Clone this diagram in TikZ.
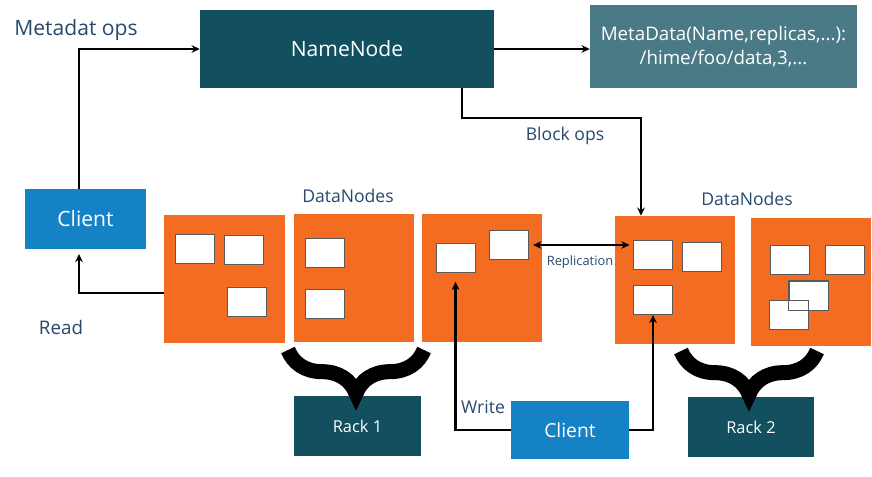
\documentclass[tikz,border=0pt]{standalone}
\usepackage{fontspec}
\setmainfont{Open Sans}
\usetikzlibrary{arrows.meta,positioning,decorations.pathreplacing}
\definecolor{hdfsTeal}  {RGB}{18,  80,  96}
\definecolor{hdfsSlate} {RGB}{74, 122, 134}
\definecolor{hdfsBlue}  {RGB}{22, 130, 198}
\definecolor{hdfsOrange}{RGB}{243,108,  33}
\definecolor{hdfsText}  {RGB}{40,  72, 110}

\begin{document}
\begin{tikzpicture}[x=0.03cm,y=-0.03cm,
    caixa/.style={inner sep=0pt,text=white},
    dnode/.style={fill=hdfsOrange,minimum width=3.6cm,minimum height=3.84cm,inner sep=0pt},
    bloco/.style={fill=white,draw=black!65,line width=0.7pt,
                  minimum width=1.17cm,minimum height=0.87cm,inner sep=0pt},
    rotulo/.style={text=hdfsText,inner sep=0pt},
    seta/.style={-{Stealth[length=7pt,width=6.5pt]},line width=2pt},
    chave/.style={decorate,decoration={brace,amplitude=1.3cm},line width=0.45cm}]
        \useasboundingbox (0,0) rectangle (872,476);
        % NameNode e metadados
        \node[caixa,fill=hdfsTeal,minimum width=8.82cm,minimum height=2.34cm,
              font=\fontsize{18}{20}\selectfont] (namenode) at (347,49) {NameNode};
        \node[caixa,fill=hdfsSlate,minimum width=8.01cm,minimum height=2.49cm,align=center,
              font=\fontsize{16}{21}\selectfont] (meta) at (723.5,46.5)
          {MetaData(Name,replicas,...):\\/hime/foo/data,3,...};
        % Clientes
        \node[caixa,fill=hdfsBlue,minimum width=3.63cm,minimum height=1.8cm,
              font=\fontsize{18}{20}\selectfont] (client1) at (85.5,219) {Client};
        \node[caixa,fill=hdfsBlue,minimum width=3.54cm,minimum height=1.74cm,
              font=\fontsize{16.5}{18}\selectfont] (client2) at (570,430) {Client};
        % DataNodes
        \node[dnode] (dn1) at (224.5,278.5) {};
        \node[dnode] (dn2) at (354,278) {};
        \node[dnode] (dn3) at (481.5,277.5) {};
        \node[dnode] (dn4) at (675,280) {};
        \node[dnode] (dn5) at (811,281.5) {};
        % Blocos
        \node[bloco] (b1a) at (195,249) {};
        \node[bloco] (b1b) at (243.5,250) {};
        \node[bloco] (b1c) at (247,301.5) {};
        \node[bloco] (b2a) at (325,253) {};
        \node[bloco] (b2b) at (325,303.5) {};
        \node[bloco] (b3a) at (455.5,257.5) {};
        \node[bloco] (b3b) at (508.5,245) {};
        \node[bloco] (b4a) at (653,255) {};
        \node[bloco] (b4b) at (702,257) {};
        \node[bloco] (b4c) at (653,300) {};
        \node[bloco] (b5a) at (790,260) {};
        \node[bloco] (b5b) at (845,260) {};
        \node[bloco] (b5c) at (808.5,295.5) {};
        \node[bloco] (b5d) at (788.5,315) {};
        \draw[black!65,line width=0.7pt] (b5c.south west) rectangle (b5c.north east);
        % Racks
        \node[caixa,fill=hdfsTeal,minimum width=3.81cm,minimum height=1.8cm,
              font=\fontsize{14}{16}\selectfont] (rack1) at (357.5,426) {Rack 1};
        \node[caixa,fill=hdfsTeal,minimum width=3.78cm,minimum height=1.8cm,
              font=\fontsize{14}{16}\selectfont] (rack2) at (751,427) {Rack 2};
        % Chaves
        \draw[chave] (424,350) -- (288,350);
        \draw[chave] (817,351) -- (681,351);
        % Rotulos
        \node[rotulo,font=\fontsize{18}{20}\selectfont] (lmeta) at (76,30) {Metadat ops};
        \node[rotulo,font=\fontsize{15}{17}\selectfont] (lblock) at (565,136) {Block ops};
        \node[rotulo,font=\fontsize{15}{17}\selectfont] (ldn1) at (348,196) {DataNodes};
        \node[rotulo,font=\fontsize{15}{17}\selectfont] (ldn2) at (747,199) {DataNodes};
        \node[rotulo,font=\fontsize{11}{13}\selectfont] (lrep) at (580,262) {Replication};
        \node[rotulo,font=\fontsize{16}{18}\selectfont] (lread) at (61,327) {Read};
        \node[rotulo,font=\fontsize{15}{17}\selectfont] (lwrite) at (483,407) {Write};
        % Setas
        \coordinate (mo) at (79,52);
        \coordinate (boA) at (462,118);
        \coordinate (boB) at (641,118);
        \coordinate (rd) at (79,293);
        \draw[seta] (client1.north -| mo) |- (namenode.west);
        \draw[seta] (namenode.east) -- (namenode.east -| meta.west);
        \draw[seta] (namenode.south -| boA) -- (boA) -- (boB) -- (dn4.north -| boB);
        \draw[seta,shorten >=4pt] (dn1.west |- rd) -- (rd) -- (client1.south -| rd);
        \draw[seta,{Stealth[length=7pt,width=6.5pt]}-{Stealth[length=7pt,width=6.5pt]},
              shorten <=4pt,shorten >=3pt] (b3b.east) -- (b3b.east -| b4a.west);
        \draw[seta,shorten >=8pt] (client2.west) -- (client2.west -| b3a.south) -- (b3a.south);
        \draw[seta] (client2.east) -- (client2.east -| b4c.south) -- (b4c.south);
      \end{tikzpicture}
\end{document}
